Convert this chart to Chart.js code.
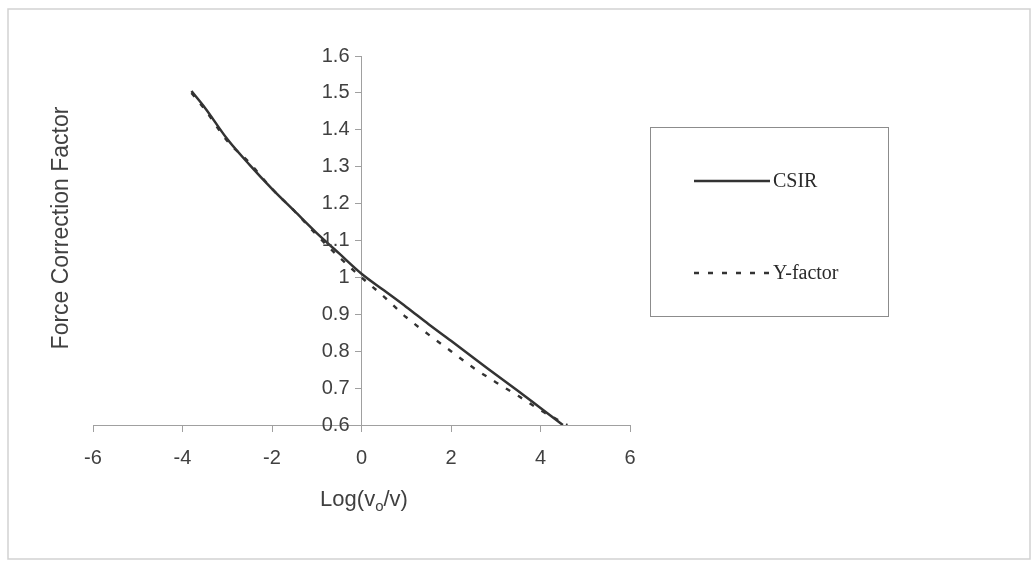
<!DOCTYPE html>
<html>
<head>
<meta charset="utf-8">
<title>Force Correction Factor</title>
<script src="https://cdn.jsdelivr.net/npm/chart.js@4.4.1/dist/chart.umd.min.js"></script>
<style>
    html, body { margin: 0; padding: 0; background: #fff; }
    #wrap { width: 1034px; height: 568px; position: relative; }
</style>
</head>
<body>
<div id="wrap"><canvas id="forceChart"></canvas></div>
<script>
// Values: Log(vo/v) against force correction factor
const csirX = [-3.8, -3.5, -3, -2.5, -2, -1.5, -1, -0.5, 0, 0.5, 1, 1.5, 2, 2.5, 3, 3.5, 4, 4.5];
const csirY = [1.505, 1.46, 1.375, 1.305, 1.24, 1.18, 1.12, 1.065, 1.01, 0.965, 0.92, 0.873, 0.828, 0.782, 0.737, 0.692, 0.646, 0.6];
const yFactorX = [-3.8, -3.5, -3, -2.5, -2, -1.5, -1, -0.5, 0, 0.5, 1, 1.5, 2, 2.5, 3, 3.5, 4, 4.6];
const yFactorY = [1.5, 1.455, 1.37, 1.31, 1.24, 1.18, 1.115, 1.055, 1.0, 0.948, 0.892, 0.845, 0.8, 0.755, 0.716, 0.679, 0.64, 0.6];
const xTicks = [-6, -4, -2, 0, 2, 4, 6];
const yTicks = [0.6, 0.7, 0.8, 0.9, 1, 1.1, 1.2, 1.3, 1.4, 1.5, 1.6];
const seriesNames = ['CSIR', 'Y-factor'];
const xTitle = ['Log(v', 'o', '/v)'];
const yTitle = 'Force Correction Factor';

const inkColor = '#333333';
const textColor = '#404040';
const axisColor = '#a0a0a0';
const sansFont = "'Liberation Sans', Arial, sans-serif";
const serifFont = "'Liberation Serif', 'Times New Roman', serif";

function toPoints(xs, ys) {
    return xs.map((x, i) => ({ x: x, y: ys[i] }));
}

function yLabel(v) {
    return String(+v.toFixed(1));
}

// Outer frame, y tick labels, axis titles and the boxed legend
const decorPlugin = {
    id: 'decor',
    beforeDraw(chart) {
        const ctx = chart.ctx;
        ctx.save();
        ctx.fillStyle = '#ffffff';
        ctx.fillRect(0, 0, chart.width, chart.height);
        ctx.strokeStyle = '#d2d2d2';
        ctx.lineWidth = 1.5;
        ctx.strokeRect(8, 9, 1022, 550);
        ctx.restore();
    },
    afterDraw(chart) {
        const ctx = chart.ctx;
        const xScale = chart.scales.x;
        const yScale = chart.scales.y;
        ctx.save();
        ctx.fillStyle = textColor;

        // y tick labels, right aligned just left of the y axis (which sits at x = 0)
        const axisX = xScale.getPixelForValue(0);
        ctx.font = '20px ' + sansFont;
        ctx.textAlign = 'right';
        ctx.textBaseline = 'middle';
        yScale.ticks.forEach(t => {
            ctx.fillText(yLabel(t.value), axisX - 12, yScale.getPixelForValue(t.value));
        });

        // y title
        ctx.font = '23px ' + sansFont;
        ctx.textAlign = 'center';
        ctx.textBaseline = 'middle';
        ctx.translate(62, 228);
        ctx.rotate(-Math.PI / 2);
        ctx.fillText(yTitle, 0, 0);
        ctx.setTransform(1, 0, 0, 1, 0, 0);

        // x title with subscript
        ctx.textAlign = 'left';
        ctx.textBaseline = 'alphabetic';
        ctx.font = '22px ' + sansFont;
        const w1 = ctx.measureText(xTitle[0]).width;
        const w3 = ctx.measureText(xTitle[2]).width;
        ctx.font = '15px ' + sansFont;
        const w2 = ctx.measureText(xTitle[1]).width;
        let x = 364 - (w1 + w2 + w3) / 2;
        const base = 506;
        ctx.font = '22px ' + sansFont;
        ctx.fillText(xTitle[0], x, base);
        x += w1;
        ctx.font = '15px ' + sansFont;
        ctx.fillText(xTitle[1], x, base + 5);
        x += w2;
        ctx.font = '22px ' + sansFont;
        ctx.fillText(xTitle[2], x, base);

        // legend box
        ctx.strokeStyle = '#8c8c8c';
        ctx.lineWidth = 1;
        ctx.strokeRect(650.5, 127.5, 238, 189);
        const rows = [181, 273];
        chart.data.datasets.forEach((ds, i) => {
            ctx.strokeStyle = ds.borderColor;
            ctx.lineWidth = ds.borderWidth;
            ctx.setLineDash(ds.borderDash || []);
            ctx.beginPath();
            ctx.moveTo(694, rows[i]);
            ctx.lineTo(770, rows[i]);
            ctx.stroke();
            ctx.setLineDash([]);
            ctx.fillStyle = '#2a2a2a';
            ctx.font = '20px ' + serifFont;
            ctx.textAlign = 'left';
            ctx.textBaseline = 'middle';
            ctx.fillText(ds.label, 773, rows[i] + 1);
        });
        ctx.restore();
    }
};

const ctx = document.getElementById('forceChart').getContext('2d');

new Chart(ctx, {
    type: 'line',
    data: {
        datasets: [{
            label: seriesNames[0],
            data: toPoints(csirX, csirY),
            borderColor: inkColor,
            borderWidth: 2.5,
            pointRadius: 0,
            cubicInterpolationMode: 'monotone',
            fill: false
        }, {
            label: seriesNames[1],
            data: toPoints(yFactorX, yFactorY),
            borderColor: inkColor,
            borderWidth: 2.4,
            borderDash: [5, 9],
            pointRadius: 0,
            cubicInterpolationMode: 'monotone',
            fill: false
        }]
    },
    options: {
        responsive: true,
        maintainAspectRatio: false,
        animation: false,
        layout: {
            padding: { left: 93, right: 404, top: 56, bottom: 0 }
        },
        plugins: {
            legend: { display: false },
            tooltip: { enabled: false }
        },
        scales: {
            x: {
                type: 'linear',
                position: 'bottom',
                min: -6,
                max: 6,
                afterBuildTicks: scale => {
                    scale.ticks = xTicks.map(v => ({ value: v }));
                },
                afterFit: scale => {
                    scale.height = 568 - 425;
                },
                ticks: {
                    color: textColor,
                    padding: 14,
                    font: { family: sansFont, size: 20 },
                    callback: v => String(v)
                },
                grid: {
                    drawOnChartArea: false,
                    drawTicks: true,
                    tickLength: 7,
                    color: axisColor
                },
                border: { color: axisColor, width: 1 }
            },
            y: {
                type: 'linear',
                position: { x: 0 },
                min: 0.6,
                max: 1.6,
                afterBuildTicks: scale => {
                    scale.ticks = yTicks.map(v => ({ value: v }));
                },
                // labels are drawn by the decor plugin so they can sit left of the tick marks
                ticks: { display: false },
                grid: {
                    drawOnChartArea: false,
                    drawTicks: true,
                    tickLength: 6,
                    color: axisColor
                },
                border: { color: axisColor, width: 1 }
            }
        }
    },
    plugins: [decorPlugin]
});
</script>
</body>
</html>
